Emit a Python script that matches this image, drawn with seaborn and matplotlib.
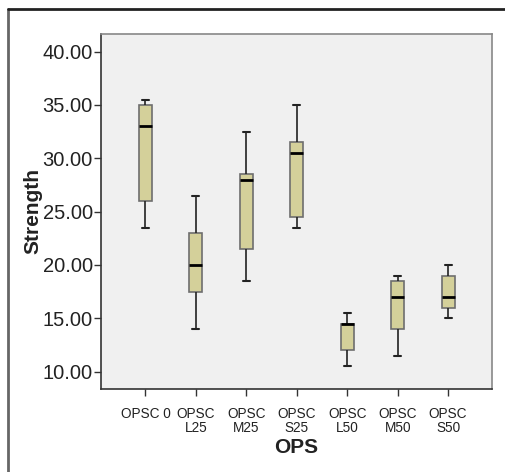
import numpy as np
import pandas as pd
import matplotlib
matplotlib.use("Agg")
import matplotlib.pyplot as plt
from matplotlib.lines import Line2D
import seaborn as sns

categories = ["OPSC 0", "OPSC\nL25", "OPSC\nM25", "OPSC\nS25", "OPSC\nL50", "OPSC\nM50", "OPSC\nS50"]
# five-number summaries: min, Q1, median, Q3, max
mins    = [23.5, 14.0, 18.5, 23.5, 10.5, 11.5, 15.0]
q1s     = [26.0, 17.5, 21.5, 24.5, 12.0, 14.0, 16.0]
medians = [33.0, 20.0, 28.0, 30.5, 14.5, 17.0, 17.0]
q3s     = [35.0, 23.0, 28.5, 31.5, 14.5, 18.5, 19.0]
maxs    = [35.5, 26.5, 32.5, 35.0, 15.5, 19.0, 20.0]
yticks = [10, 15, 20, 25, 30, 35, 40]

rows = []
for c, a, b, m, d, e in zip(categories, mins, q1s, medians, q3s, maxs):
    for v in (a, b, m, d, e):
        rows.append({"OPS": c, "Strength": v})
df = pd.DataFrame(rows)

sns.set_style("white")
plt.rcParams["font.family"] = ["Liberation Sans", "DejaVu Sans"]

fig = plt.figure(figsize=(5.06, 4.72), dpi=100)
ax = fig.add_axes([101/506, 1-389/472, (492-101)/506, (389-33.5)/472])
ax.set_facecolor("#f0f0f0")

sns.boxplot(data=df, x="OPS", y="Strength", order=categories, whis=(0, 100),
            width=0.26, color="#d4d09a", saturation=1, ax=ax,
            boxprops=dict(edgecolor="#6e6e6e", linewidth=1.2),
            medianprops=dict(color="black", linewidth=2),
            whiskerprops=dict(color="#222222", linewidth=1.2),
            capprops=dict(color="#222222", linewidth=1.5),
            capwidths=0.14, showfliers=False)

ax.set_ylim(8.37, 41.7)
ax.set_xlim(-0.88, 6.87)
ax.set_yticks(yticks)
ax.set_yticklabels([f"{t:.2f}" for t in yticks], fontsize=14.5, color="#222222")
ax.set_xticks(range(len(categories)))
ax.set_xticklabels(categories, fontsize=9.8, color="#222222", linespacing=1.0)
ax.tick_params(axis="y", length=5, width=1, color="#333333", pad=1, left=True)
ax.tick_params(axis="x", length=5, width=1, color="#333333", pad=8, bottom=True)

for s in ["left", "bottom"]:
    ax.spines[s].set_color("#333333")
    ax.spines[s].set_linewidth(1.2)
for s in ["top", "right"]:
    ax.spines[s].set_color("#888888")
    ax.spines[s].set_linewidth(1.2)

ax.set_xlabel("OPS", fontsize=15, fontweight="bold", color="#222222", labelpad=2)
ax.set_ylabel("Strength", fontsize=15, fontweight="bold", color="#222222", labelpad=0)

# outer frame
fig.add_artist(Line2D([8/506, 8/506], [0, 1-9/472], transform=fig.transFigure, color="#666666", linewidth=2))
fig.add_artist(Line2D([8/506, 1], [1-9/472, 1-9/472], transform=fig.transFigure, color="#222222", linewidth=2))

fig.savefig("out.png", dpi=100)
